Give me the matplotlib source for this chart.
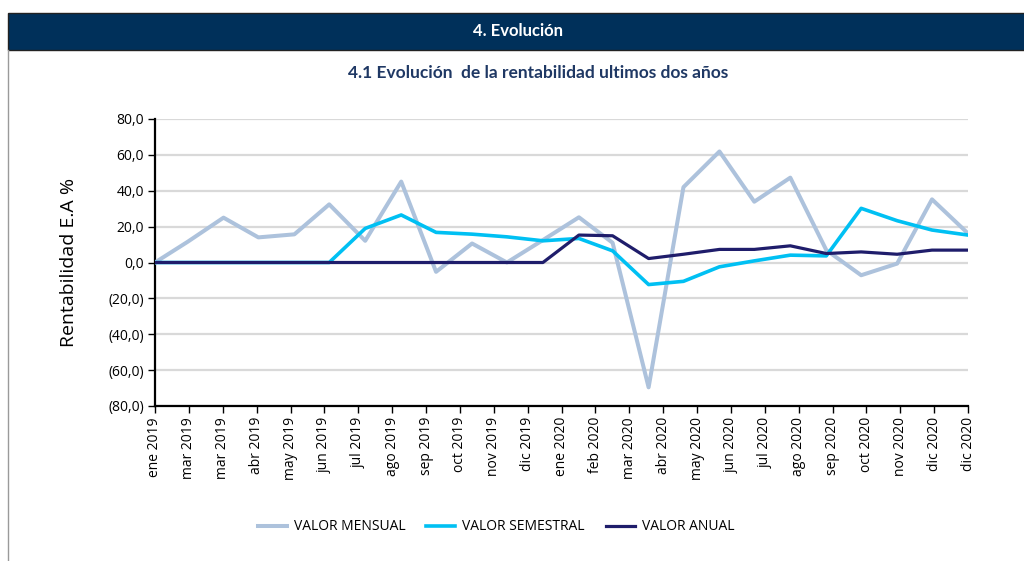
"""Evolución de la rentabilidad ultimos dos años - line chart"""

import matplotlib

matplotlib.use("Agg")

import matplotlib.dates as mdates
import matplotlib.pyplot as plt
import numpy as np
import pandas as pd
from matplotlib.patches import Rectangle
from matplotlib.lines import Line2D

# Data (month-end dates, ene 2019 .. dic 2020)
fechas = pd.date_range("2019-01-31", periods=24, freq="ME")

valor_mensual = [0.0, 11.5, 25.0, 14.0, 15.7, 32.4, 12.1, 45.1, -5.2, 10.6, 0.0, 12.5,
                 25.2, 11.0, -69.6, 42.0, 61.9, 33.9, 47.3, 6.9, -7.1, -0.6, 35.2, 16.2]
valor_semestral = [0.0, 0.0, 0.0, 0.0, 0.0, 0.0, 19.0, 26.5, 16.8, 15.8, 14.3, 12.1,
                   13.4, 6.5, -12.3, -10.5, -2.4, 0.9, 4.1, 3.7, 30.2, 23.3, 18.1, 15.3]
valor_anual = [0.0, 0.0, 0.0, 0.0, 0.0, 0.0, 0.0, 0.0, 0.0, 0.0, 0.0, 0.0,
               15.3, 14.9, 2.2, 4.6, 7.3, 7.3, 9.3, 5.0, 5.9, 4.6, 6.9, 6.9]

etiquetas_x = ["ene 2019", "mar 2019", "mar 2019", "abr 2019", "may 2019", "jun 2019",
               "jul 2019", "ago 2019", "sep 2019", "oct 2019", "nov 2019", "dic 2019",
               "ene 2020", "feb 2020", "mar 2020", "abr 2020", "may 2020", "jun 2020",
               "jul 2020", "ago 2020", "sep 2020", "oct 2020", "nov 2020", "dic 2020",
               "dic 2020"]
valores_y = [80, 60, 40, 20, 0, -20, -40, -60, -80]

COLOR_MENSUAL = "#adc2dc"
COLOR_SEMESTRAL = "#00c0f3"
COLOR_ANUAL = "#1f1d6b"
COLOR_HEADER = "#00305a"

plt.rcParams["font.family"] = ["Open Sans", "DejaVu Sans"]


def _format_y(value: float) -> str:
    """Excel style number: 20,0 / (20,0)"""
    text = f"{abs(value):.1f}".replace(".", ",")
    return f"({text})" if value < 0 else text


figure = plt.figure(figsize=(10.24, 5.61), dpi=100)
axes = figure.add_axes([155 / 1024, 1 - 406 / 561, 813 / 1024, 287 / 561])

# Header band and frame
figure.patches.append(Rectangle((8 / 1024, 1 - 50 / 561), 1, 37 / 561, transform=figure.transFigure,
                                facecolor=COLOR_HEADER, edgecolor="#222222", linewidth=1))
figure.lines.append(Line2D([8 / 1024, 8 / 1024], [0, 1 - 50 / 561], transform=figure.transFigure,
                           color="#9a9a9a", linewidth=1))
figure.text(518 / 1024, 1 - 31 / 561, "4. Evolución", color="white", fontsize=12,
            fontweight="bold", ha="center", va="center", family=["Lato", "DejaVu Sans"])
figure.text(538 / 1024, 1 - 73 / 561, "4.1 Evolución  de la rentabilidad ultimos dos años",
            color="#1f3864", fontsize=12.5, fontweight="bold", ha="center", va="center",
            family=["Lato", "DejaVu Sans"])

# Lines
axes.plot(fechas, valor_mensual, color=COLOR_MENSUAL, linewidth=2.9, label="VALOR MENSUAL", zorder=3)
axes.plot(fechas, valor_semestral, color=COLOR_SEMESTRAL, linewidth=2.6, label="VALOR SEMESTRAL", zorder=4)
axes.plot(fechas, valor_anual, color=COLOR_ANUAL, linewidth=2.3, label="VALOR ANUAL", zorder=5)

# X axis: evenly spaced date ticks like the spreadsheet
x_start = mdates.date2num(fechas[0])
x_end = mdates.date2num(fechas[-1])
axes.set_xlim(x_start, x_end)
axes.set_xticks(np.linspace(x_start, x_end, len(etiquetas_x)))
axes.set_xticklabels(etiquetas_x, rotation=90, fontsize=10)

# Y axis
axes.set_ylim(-80, 80)
axes.set_yticks(valores_y)
axes.set_yticklabels([_format_y(v) for v in valores_y], fontsize=10)
axes.set_ylabel("Rentabilidad E.A %", fontsize=14, labelpad=22)

axes.grid(axis="y", color="#d9d9d9", linewidth=1.6, zorder=0)
axes.set_axisbelow(True)
for side in ("top", "right"):
    axes.spines[side].set_visible(False)
for side in ("left", "bottom"):
    axes.spines[side].set_linewidth(1.6)
    axes.spines[side].set_color("black")
axes.tick_params(axis="both", length=5, width=1, color="black", pad=3)

figure.legend(loc="center", bbox_to_anchor=(496 / 1024, 1 - 527 / 561), ncol=3, frameon=False,
              fontsize=10, handlelength=2.1, columnspacing=1.5, handletextpad=0.5)

figure.savefig("out.png", dpi=100)
